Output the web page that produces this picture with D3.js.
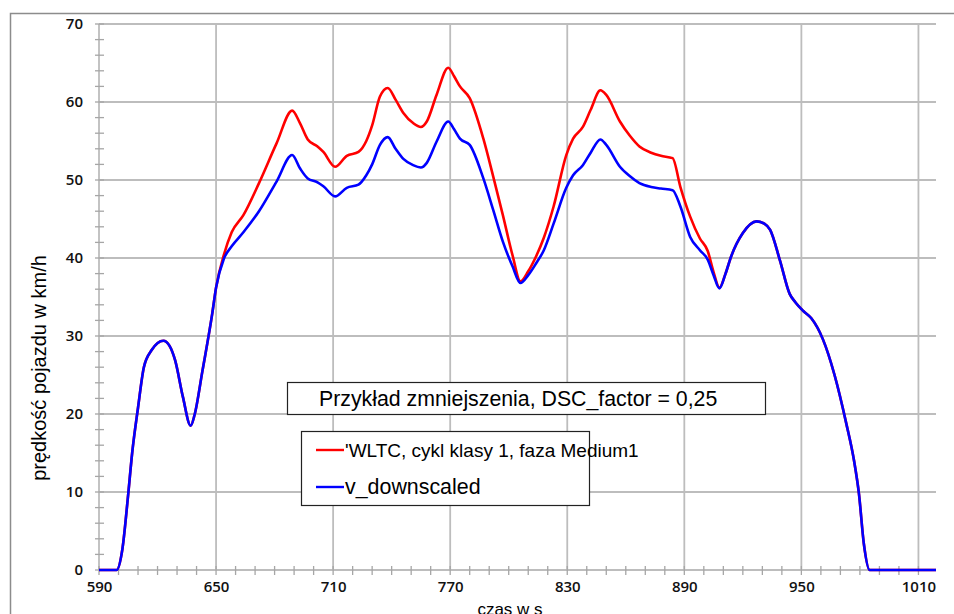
<!DOCTYPE html>
<html>
<head>
<meta charset="utf-8">
<script src="https://cdn.jsdelivr.net/npm/d3@7"></script>
<style>
  body { margin: 0; background: #fff; }
  svg { display: block; }
</style>
</head>
<body>
<script>
// dane (czas w s, prędkość w km/h)
var czas = [590, 599, 602, 605, 607, 610, 613, 617, 623, 626, 629, 633, 637, 639, 643, 648, 650,
  654, 658, 664, 672, 681, 689, 693, 697, 702, 705, 711, 717, 723, 727, 730, 734, 738, 742, 746,
  751, 755, 758, 763, 769, 772, 775, 780, 787, 792, 797, 802, 806, 810, 814, 818, 823, 829.5, 833,
  838, 842, 847, 850, 857, 862, 867, 873, 878, 884, 888, 893, 898, 902, 905, 908,
  911, 914, 920, 927, 931, 934, 939, 944, 947, 951, 955, 961, 967, 973, 977,
  979.5, 982, 985, 1019];

var vWltc = [0, 0, 2.7, 9.8, 15, 20.8, 26, 28.2, 29.4, 28.8, 26.9, 22.2, 18.5, 19.9, 25.5, 32.8, 36.2,
  40.4, 43.3, 45.5, 49.6, 54.7, 58.9, 57.3, 55.2, 54.3, 53.6, 51.7, 53.1, 53.6, 55.0, 57.0, 60.7, 61.8, 60.3, 58.6,
  57.3, 56.8, 57.5, 60.9, 64.4, 63.3, 62.0, 60.5, 55.3, 50.5, 45.5, 40.3, 37.0, 38.3, 40.2, 42.6, 46.6, 53.2, 55.3,
  56.8, 59.0, 61.5, 60.9, 57.5, 55.7, 54.3, 53.5, 53.1, 52.8, 49.1, 45.3, 42.5, 40.9, 38.2, 36.2,
  37.9, 40.2, 43.2, 44.7, 44.4, 43.6, 39.7, 35.4, 34.3, 33.2, 32.3, 29.6, 25.0, 18.8, 14.0,
  9.8, 3.4, 0, 0];

var vDown = [0, 0, 2.7, 9.8, 15, 20.8, 26, 28.2, 29.4, 28.8, 26.9, 22.2, 18.5, 19.9, 25.5, 32.8, 36.2,
  39.9, 41.5, 43.3, 46.0, 49.8, 53.2, 51.5, 50.2, 49.7, 49.2, 47.9, 49.0, 49.4, 50.6, 52.0, 54.5, 55.5, 54.0, 52.7,
  51.9, 51.6, 52.2, 54.9, 57.5, 56.5, 55.3, 54.5, 50.2, 46.2, 42.1, 38.9, 36.8, 37.8, 39.3, 41.0, 44.4, 49.0, 50.6,
  51.9, 53.5, 55.2, 54.5, 51.7, 50.5, 49.6, 49.1, 48.9, 48.7, 46.6, 42.7, 41.0, 39.8, 37.8, 36.1,
  37.9, 40.2, 43.2, 44.7, 44.4, 43.6, 39.7, 35.4, 34.3, 33.2, 32.3, 29.6, 25.0, 18.8, 14.0,
  9.8, 3.4, 0, 0];

var xTicks = [590, 650, 710, 770, 830, 890, 950, 1010];
var yTicks = [0, 10, 20, 30, 40, 50, 60, 70];
var xMinor = d3.range(590, 1020, 10);
var yMinor = d3.range(0, 71, 2);

var tytul = "Przykład zmniejszenia, DSC_factor = 0,25";
var nazwySerii = ["'WLTC, cykl klasy 1, faza Medium1", "v_downscaled"];
var kolory = ["#ff0000", "#0000ff"];

var width = 954, height = 614;

var svg = d3.select("body").append("svg")
  .attr("width", width)
  .attr("height", height);

// ramka
svg.append("rect")
  .attr("x", 10.5).attr("y", 13.5)
  .attr("width", 960).attr("height", 620)
  .attr("fill", "none")
  .attr("stroke", "#8c8c8c")
  .attr("stroke-width", 1.5);

var x = d3.scaleLinear().domain([590, 1019]).range([99, 936]);
var y = d3.scaleLinear().domain([0, 70]).range([570, 24]);

var grid = "#bdbdbd";

// siatka
svg.append("g").selectAll("line")
  .data(yTicks)
  .enter().append("line")
  .attr("x1", x(590)).attr("x2", x(1019))
  .attr("y1", d => y(d)).attr("y2", d => y(d))
  .attr("stroke", grid).attr("stroke-width", 1.8);

svg.append("g").selectAll("line")
  .data(xTicks)
  .enter().append("line")
  .attr("x1", d => x(d)).attr("x2", d => x(d))
  .attr("y1", y(0)).attr("y2", y(70))
  .attr("stroke", grid).attr("stroke-width", 1.8);

// drobne znaczniki osi
svg.append("g").selectAll("line")
  .data(xMinor)
  .enter().append("line")
  .attr("x1", d => x(d)).attr("x2", d => x(d))
  .attr("y1", y(0) - 4).attr("y2", y(0) + 5)
  .attr("stroke", "#a6a6a6").attr("stroke-width", 1.3);

svg.append("g").selectAll("line")
  .data(yMinor)
  .enter().append("line")
  .attr("x1", x(590) - 4).attr("x2", x(590) + 5)
  .attr("y1", d => y(d)).attr("y2", d => y(d))
  .attr("stroke", "#a6a6a6").attr("stroke-width", 1.3);

// opisy osi
var fontTick = "'Open Sans', 'DejaVu Sans', sans-serif";

var xAxis = svg.append("g")
  .attr("transform", "translate(0," + y(0) + ")")
  .call(d3.axisBottom(x).tickValues(xTicks).tickSize(0).tickPadding(11).tickFormat(d3.format("d")));
xAxis.select(".domain").remove();
xAxis.selectAll("text")
  .attr("font-family", fontTick).attr("font-size", 15).attr("font-weight", 600).attr("fill", "#111");

var yAxis = svg.append("g")
  .attr("transform", "translate(" + x(590) + ",0)")
  .call(d3.axisLeft(y).tickValues(yTicks).tickSize(0).tickPadding(16).tickFormat(d3.format("d")));
yAxis.select(".domain").remove();
yAxis.selectAll("text")
  .attr("font-family", fontTick).attr("font-size", 15).attr("font-weight", 600).attr("fill", "#111");

// linie danych
var serie = [vWltc, vDown];
var line = d3.line()
  .x((d, i) => x(czas[i]))
  .y(d => y(d))
  .curve(d3.curveMonotoneX);

svg.append("g").selectAll("path")
  .data(serie)
  .enter().append("path")
  .attr("d", line)
  .attr("fill", "none")
  .attr("stroke", (d, i) => kolory[i])
  .attr("stroke-width", 2.6)
  .attr("stroke-linejoin", "round");

// tytuły osi
var fontLabel = "'Liberation Sans', Arial, sans-serif";

svg.append("text")
  .attr("transform", "translate(46,368) rotate(-90)")
  .attr("text-anchor", "middle")
  .attr("font-family", fontLabel)
  .attr("font-size", 20)
  .text("prędkość pojazdu w km/h");

svg.append("text")
  .attr("x", 510).attr("y", 615)
  .attr("text-anchor", "middle")
  .attr("font-family", fontLabel)
  .attr("font-size", 17)
  .text("czas w s");

// pole tytułu
svg.append("rect")
  .attr("x", 287.5).attr("y", 382.5)
  .attr("width", 478).attr("height", 32)
  .attr("fill", "#fff").attr("stroke", "#222").attr("stroke-width", 1.2);

svg.append("text")
  .attr("x", 319).attr("y", 406)
  .attr("font-family", fontLabel)
  .attr("font-size", 21.3)
  .text(tytul);

// legenda
svg.append("rect")
  .attr("x", 301.5).attr("y", 431.5)
  .attr("width", 288).attr("height", 74)
  .attr("fill", "#fff").attr("stroke", "#222").attr("stroke-width", 1.2);

var legY = [450, 487];
var legSize = [19, 21.4];
var leg = svg.append("g").selectAll("g")
  .data(nazwySerii)
  .enter().append("g");

leg.append("line")
  .attr("x1", 316).attr("x2", 344)
  .attr("y1", (d, i) => legY[i]).attr("y2", (d, i) => legY[i])
  .attr("stroke", (d, i) => kolory[i])
  .attr("stroke-width", 2.4);

leg.append("text")
  .attr("x", 345)
  .attr("y", (d, i) => legY[i] + 7)
  .attr("font-family", fontLabel)
  .attr("font-size", (d, i) => legSize[i])
  .text(d => d);
</script>
</body>
</html>
